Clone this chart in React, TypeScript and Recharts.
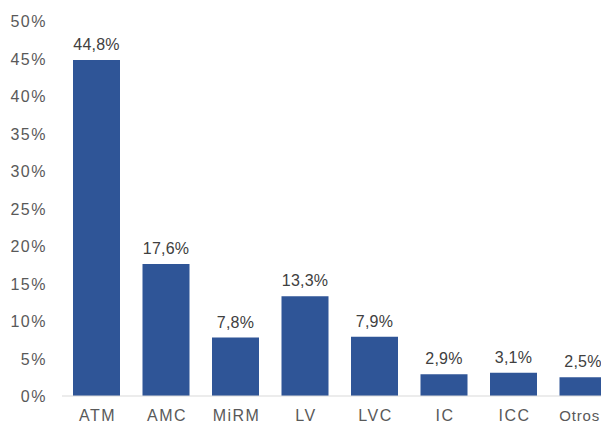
import { BarChart, Bar, XAxis, YAxis, LabelList } from 'recharts';

const categories = ['ATM', 'AMC', 'MiRM', 'LV', 'LVC', 'IC', 'ICC', 'Otros'];
const shares = [44.8, 17.6, 7.8, 13.3, 7.9, 2.9, 3.1, 2.5];
const yTicks = [0, 5, 10, 15, 20, 25, 30, 35, 40, 45, 50];

const data = categories.map((name, i) => ({ name, value: shares[i] }));

const font = '"Liberation Sans", Arial, sans-serif';

const fmt = (v: number) => `${v.toFixed(1).replace('.', ',')}%`;

function YTick(props: any) {
  const { y, payload } = props;
  return (
    <text x={47} y={y} dy={6} textAnchor="end" fill="#595959" fontSize={16} fontFamily={font} letterSpacing={1.5}>
      {payload.value}%
    </text>
  );
}

function XTick(props: any) {
  const { x, payload } = props;
  // the last label is pushed left so it stays inside the picture
  if (payload.value === 'Otros') {
    return (
      <text x={600} y={421} textAnchor="end" fill="#595959" fontSize={15} fontFamily={font} letterSpacing={0.8}>
        {payload.value}
      </text>
    );
  }
  return (
    <text x={x + 0.8} y={421} textAnchor="middle" fill="#595959" fontSize={16} fontFamily={font} letterSpacing={1.5}>
      {payload.value}
    </text>
  );
}

export default function App() {
  return (
    <div style={{ position: 'absolute', left: 0, top: 0, width: 601, height: 423, overflow: 'hidden', background: '#fff' }}>
      <BarChart width={618} height={423} data={data} margin={{ top: 21, right: 0, bottom: 0, left: 0 }}>
        <XAxis
          dataKey="name"
          height={27}
          axisLine={{ stroke: '#d9d9d9' }}
          tickLine={false}
          tick={<XTick />}
          interval={0}
        />
        <YAxis
          width={62}
          domain={[0, 50]}
          ticks={yTicks}
          axisLine={false}
          tickLine={false}
          tick={<YTick />}
          interval={0}
        />
        <Bar dataKey="value" fill="#2f5597" barSize={47} isAnimationActive={false}>
          <LabelList
            dataKey="value"
            position="top"
            offset={10}
            formatter={(v: any) => fmt(Number(v))}
            fill="#404040"
            fontSize={16}
            fontFamily={font}
            letterSpacing={0.2}
          />
        </Bar>
      </BarChart>
    </div>
  );
}
